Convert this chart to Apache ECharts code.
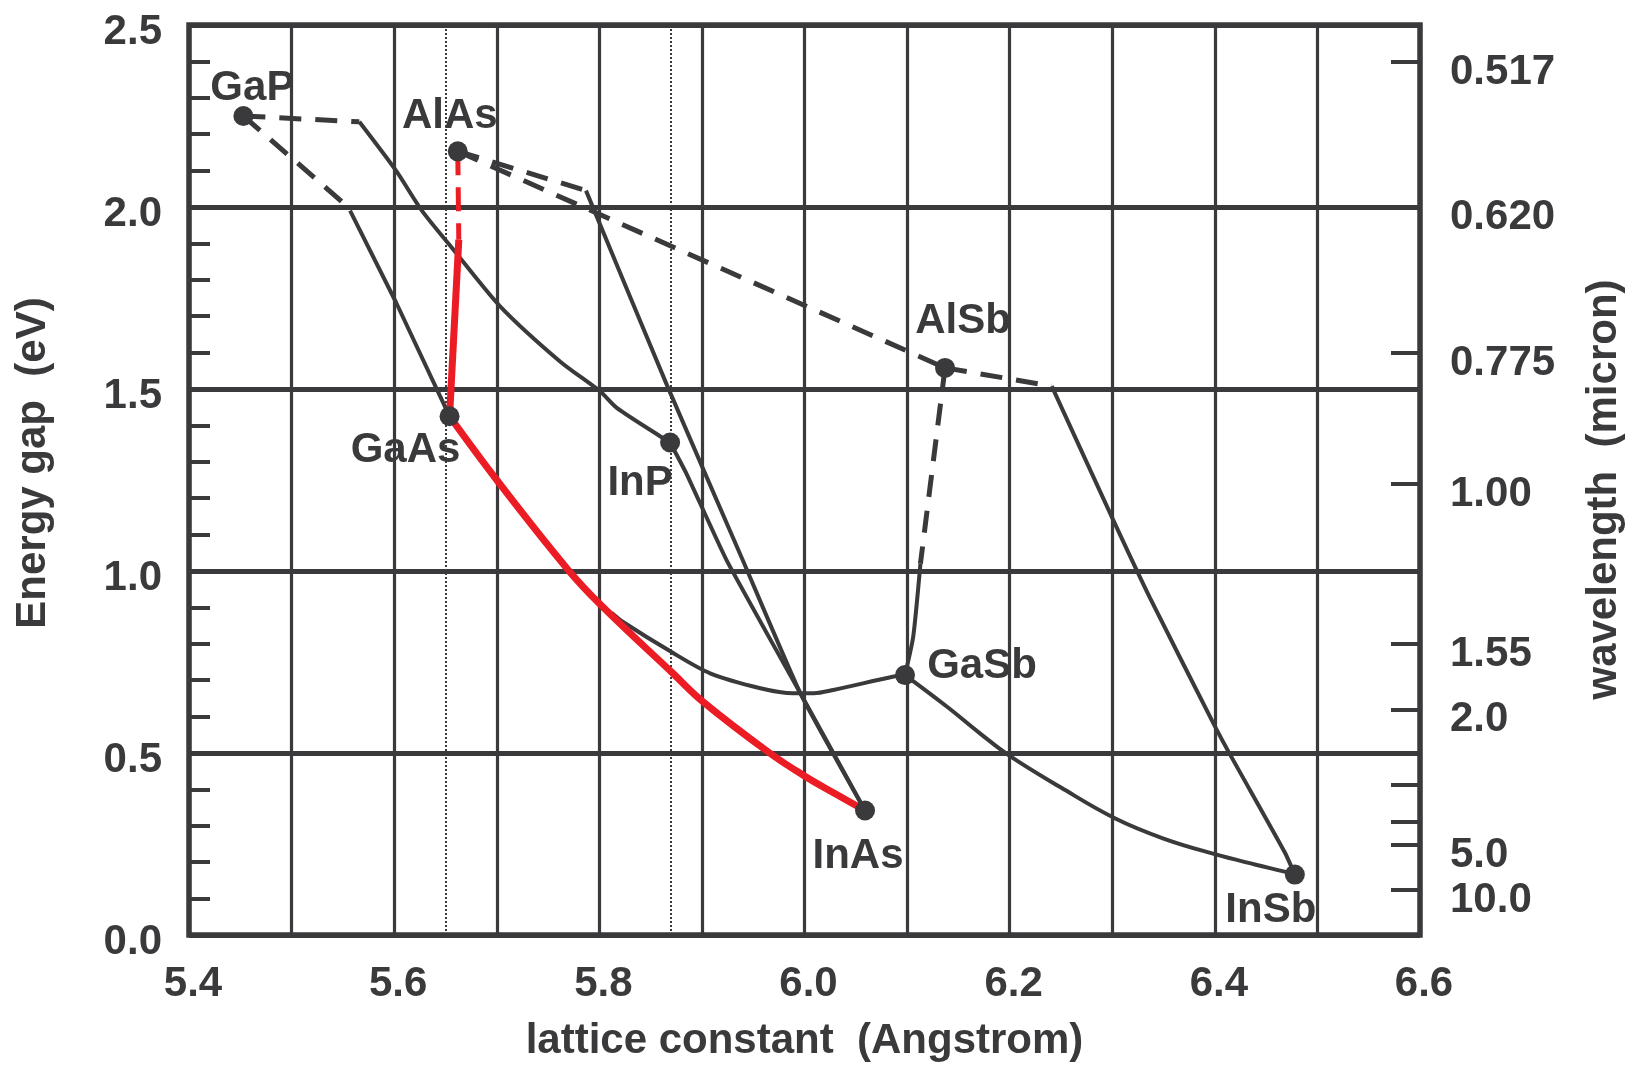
<!DOCTYPE html>
<html><head><meta charset="utf-8">
<script src="https://cdn.jsdelivr.net/npm/echarts@6/dist/echarts.min.js"></script>
<style>html,body{margin:0;padding:0;background:#fff}#c{width:1633px;height:1069px}</style>
</head><body><div id="c"></div>
<script>
// ---------- data ----------
const compounds = ['GaP', 'AlAs', 'GaAs', 'InP', 'AlSb', 'GaSb', 'InAs', 'InSb'];
const latticeA  = [5.453, 5.662, 5.654, 5.869, 6.137, 6.098, 6.059, 6.478];
const gapEV     = [2.250, 2.153, 1.425, 1.353, 1.558, 0.714, 0.342, 0.166];

// black solid (direct-gap) alloy curves
const gaInP_direct  = [[5.566,2.234],[5.602,2.099],[5.627,1.990],[5.658,1.882],[5.703,1.728],[5.762,1.575],[5.801,1.493],[5.817,1.448],[5.861,1.367],[5.869,1.353]];
const gaAsP_direct  = [[5.557,1.990],[5.602,1.737],[5.654,1.425]];
const alInAs_direct = [[5.787,2.045],[5.866,1.510],[5.939,1.035],[5.996,0.664],[6.059,0.342]];
const inAsP         = [[5.869,1.353],[5.885,1.267],[5.924,1.030],[5.996,0.664],[6.059,0.342]];
const alGaSb_direct = [[6.113,1.020],[6.106,0.820],[6.098,0.714]];
const gaAsSb        = [[5.812,0.885],[5.822,0.862],[5.870,0.778],[5.908,0.719],[5.957,0.678],[5.989,0.664],[6.009,0.664],[6.028,0.673],[6.087,0.710],[6.098,0.714]];
const gaInSb        = [[6.098,0.714],[6.139,0.627],[6.171,0.554],[6.200,0.492],[6.250,0.405],[6.303,0.320],[6.350,0.265],[6.400,0.222],[6.440,0.193],[6.468,0.174],[6.478,0.166]];
const alInSb_direct = [[6.241,1.508],[6.301,1.140],[6.337,0.925],[6.400,0.574],[6.416,0.490],[6.468,0.228],[6.478,0.166]];

// black dashed (indirect-gap) segments
const gaInP_indirect  = [[5.453,2.250],[5.566,2.234]];
const gaAsP_indirect  = [[5.453,2.250],[5.551,2.010]];
const alInAs_indirect = [[5.662,2.153],[5.787,2.045]];
const alAsSb          = [[5.662,2.153],[6.137,1.558]];
const alGaSb_indirect = [[6.137,1.558],[6.113,1.020]];
const alInSb_indirect = [[6.137,1.558],[6.241,1.508]];

// red curves
const alGaAs_indirect = [[5.662,2.153],[5.663,1.910]];
const alGaAs_direct   = [[5.663,1.910],[5.654,1.425]];
const inGaAs          = [[5.654,1.425],[5.700,1.250],[5.769,1.005],[5.802,0.905],[5.872,0.718],[5.901,0.641],[5.966,0.500],[6.000,0.437],[6.030,0.388],[6.059,0.342]];

// dotted vertical reference lines (lattice constants of GaAs, InP, GaSb)
const dottedLattice = [5.653, 5.869, 6.096];

// axis tick labels
const xTickLabels = ['5.4','5.6','5.8','6.0','6.2','6.4','6.6'];
const yTickLabels = ['0.0','0.5','1.0','1.5','2.0','2.5'];
const wavelengthTicks  = [0.517, 0.620, 0.775, 1.00, 1.55, 2.0, 3.0, 4.0, 5.0, 10.0];
const wavelengthLabels = ['0.517','0.620','0.775','1.00','1.55','2.0','5.0','10.0'];

// ---------- styles ----------
const INK = '#3a3a3c', RED = '#ec1c24';
const FONT = "'Liberation Sans', Arial, Helvetica, sans-serif";
const labelOffsets = [[9,-28],[-8,-35],[-44,34],[-30,41],[18,-46],[77,-9],[-7,46],[-24,36]];
const HC = 1.24; // eV*micron
const tickE  = wavelengthTicks.map(l => HC / l);
const labelE = wavelengthLabels.map(s => HC / parseFloat(s));

function solid(name, data, smooth) {
  return {type:'line', name, data, showSymbol:false, symbol:'none', smooth: smooth || 0, silent:true,
          lineStyle:{color:INK, width:4}, z:3};
}
function dashed(name, data) {
  return {type:'line', name, data, showSymbol:false, symbol:'none', silent:true,
          lineStyle:{color:INK, width:5, type:[22,14]}, z:3};
}
const txt = {fontFamily: FONT, fontWeight:'bold', fontSize:42, color: INK};

const series = [
  Object.assign(solid('GaInP', gaInP_direct, 0.25), {
    markLine: {symbol:'none', silent:true, z:1, label:{show:false},
      lineStyle:{color:INK, width:2, type:[2,2]},
      data: dottedLattice.map(v => ({xAxis: v}))}
  }),
  solid('GaAsP', gaAsP_direct),
  solid('AlInAs', alInAs_direct, 0.15),
  solid('InAsP', inAsP, 0.15),
  solid('AlGaSb', alGaSb_direct, 0.2),
  solid('GaAsSb', gaAsSb, 0.3),
  solid('GaInSb', gaInSb, 0.4),
  solid('AlInSb', alInSb_direct, 0.2),
  dashed('GaInP ind', gaInP_indirect),
  dashed('GaAsP ind', gaAsP_indirect),
  dashed('AlInAs ind', alInAs_indirect),
  dashed('AlAsSb', alAsSb),
  dashed('AlGaSb ind', alGaSb_indirect),
  dashed('AlInSb ind', alInSb_indirect),
  {type:'line', name:'AlGaAs ind', data: alGaAs_indirect, showSymbol:false, symbol:'none', silent:true,
   lineStyle:{color:RED, width:5, type:[24,12]}, z:4},
  {type:'line', name:'AlGaAs', data: alGaAs_direct, showSymbol:false, symbol:'none', silent:true,
   lineStyle:{color:RED, width:7}, z:4},
  {type:'line', name:'InGaAs', data: inGaAs, showSymbol:false, symbol:'none', smooth:0.4, silent:true,
   lineStyle:{color:RED, width:7, cap:'round'}, z:4},
  {type:'scatter', name:'binaries', symbol:'circle', symbolSize:20, z:6, silent:true,
   itemStyle:{color:INK, opacity:1},
   label:Object.assign({show:true, position:'inside', formatter:'{b}', opacity:1}, txt),
   data: compounds.map((n,i) => ({name:n, value:[latticeA[i], gapEV[i]], label:{offset: labelOffsets[i]}}))}
];

const chart = echarts.init(document.getElementById('c'), null, {renderer:'canvas'});
chart.setOption({
  animation:false,
  backgroundColor:'#fff',
  grid:{left:189, top:25, width:1231, height:910, containLabel:false, outerBoundsMode:'none',
        show:true, borderColor:INK, borderWidth:5.5, backgroundColor:'transparent'},
  xAxis:{type:'value', min:5.4, max:6.6, interval:0.1,
    name:'lattice constant  (Angstrom)', nameLocation:'middle', nameGap:85, nameTextStyle:txt,
    axisLine:{show:false}, axisTick:{show:false},
    splitLine:{show:true, lineStyle:{color:INK, width:3.2}},
    axisLabel:Object.assign({margin:28, padding:[0,0,0,8], formatter: v => { const s = v.toFixed(1); return xTickLabels.includes(s) ? s : ''; }}, txt)},
  yAxis:[
    {type:'value', min:0, max:2.5, interval:0.5, position:'left',
     name:'Energy gap  (eV)', nameLocation:'middle', nameRotate:90, nameGap:135,
     nameTextStyle:Object.assign({padding:[0,0,0,34]}, txt),
     axisLine:{show:false}, axisTick:{show:false, inside:true},
     minorTick:{show:true, splitNumber:5, length:21, lineStyle:{color:INK, width:4}},
     splitLine:{show:true, lineStyle:{color:INK, width:5}},
     axisLabel:Object.assign({margin:27, verticalAlign:'top', lineHeight:14,
       formatter: v => { const s = v.toFixed(1); return yTickLabels.includes(s) ? s : ''; }}, txt)},
    {type:'value', min:0, max:2.5, position:'right',
     name:'wavelength  (micron)', nameLocation:'middle', nameRotate:90, nameGap:163,
     nameTextStyle:Object.assign({padding:[0,19,0,0]}, txt),
     axisLine:{show:false}, splitLine:{show:false},
     axisTick:{show:true, inside:true, length:29, customValues: tickE, lineStyle:{color:INK, width:4}},
     axisLabel:Object.assign({margin:30, verticalAlign:'top', lineHeight:21, customValues: labelE,
       formatter: v => { let best = 0; labelE.forEach((e,i) => { if (Math.abs(e - v) < Math.abs(labelE[best] - v)) best = i; }); return wavelengthLabels[best]; }}, txt)}
  ],
  series
});
</script></body></html>
